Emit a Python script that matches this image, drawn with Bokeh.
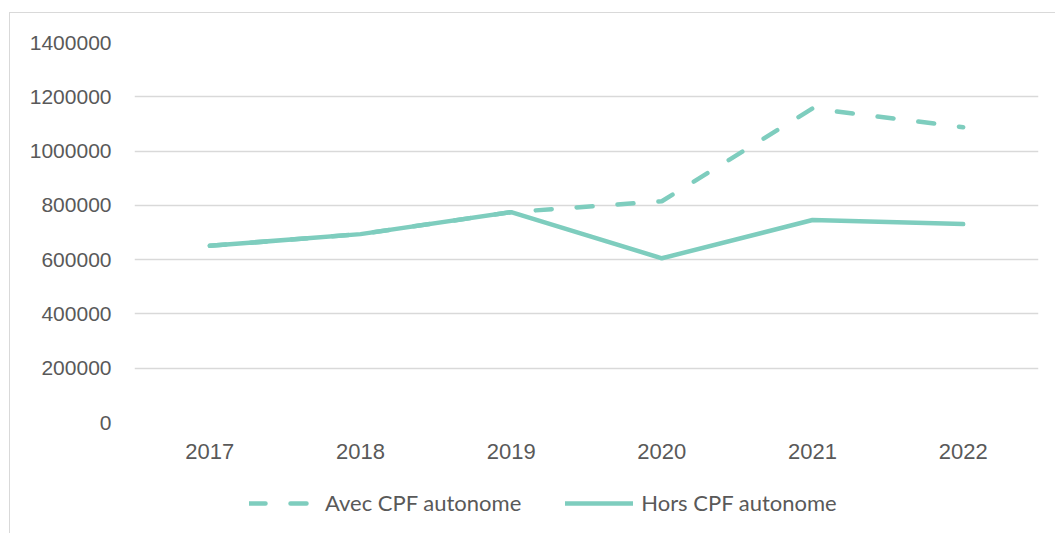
from bokeh.plotting import figure
from bokeh.layouts import column
from bokeh.models import FactorRange, Range1d, FixedTicker, BasicTickFormatter, Legend, LegendItem
from bokeh.embed import file_html
from bokeh.resources import INLINE

years = ["2017", "2018", "2019", "2020", "2021", "2022"]
avec_cpf = [651000, 694000, 775000, 815000, 1157000, 1088000]
hors_cpf = [651000, 694000, 775000, 605000, 746000, 731000]
y_ticks = [0, 200000, 400000, 600000, 800000, 1000000, 1200000, 1400000]
series_names = ["Avec CPF autonome", "Hors CPF autonome"]

color = "#7ECDBE"
text_color = "#595959"
dash = "16 25"

p = figure(width=1045, height=464, x_range=FactorRange(*years, range_padding=0),
           y_range=Range1d(0, 1400000), output_backend="svg", toolbar_location=None,
           min_border_left=124, min_border_top=29, min_border_right=17, min_border_bottom=55)
p.outline_line_color = None
p.xgrid.grid_line_color = None
p.ygrid.grid_line_color = "#d9d9d9"
p.ygrid.grid_line_width = 1.5

p.yaxis.ticker = FixedTicker(ticks=y_ticks)
p.yaxis.formatter = BasicTickFormatter(use_scientific=False)
for ax in (p.xaxis[0], p.yaxis[0]):
    ax.axis_line_color = None
    ax.major_tick_line_color = None
    ax.minor_tick_line_color = None
    ax.major_label_text_font = "Liberation Sans"
    ax.major_label_text_color = text_color
p.yaxis.major_label_text_font_size = "21px"
p.xaxis.major_label_text_font_size = "22px"
p.yaxis.major_label_standoff = 17
p.xaxis.major_label_standoff = 15

p.line(years, avec_cpf, line_color=color, line_width=4.5, line_dash=dash, line_cap="round")
p.line(years, hors_cpf, line_color=color, line_width=4.5, line_cap="round", line_join="round")

# legend strip (dummy renderers drawn outside the visible range)
p2 = figure(width=1045, height=56, x_range=Range1d(0, 1), y_range=Range1d(0, 1),
            output_backend="svg", toolbar_location=None,
            min_border_left=0, min_border_top=0, min_border_right=0, min_border_bottom=0)
p2.axis.visible = False
p2.grid.visible = False
p2.outline_line_color = None
l1 = p2.line([-10, -9], [-10, -9], line_color=color, line_width=4.5, line_dash=dash, line_cap="round")
l2 = p2.line([-10, -9], [-10, -9], line_color=color, line_width=4.5, line_cap="round")
legend = Legend(items=[LegendItem(label=series_names[0], renderers=[l1]),
                       LegendItem(label=series_names[1], renderers=[l2])],
                orientation="horizontal", location=(115, 17), border_line_color=None,
                background_fill_alpha=0,
                label_text_font="Lato", label_text_font_size="22px",
                label_text_color=text_color, glyph_width=68, label_standoff=8, spacing=44,
                margin=0, padding=0)
p2.add_layout(legend, "center")

layout = column(p, p2, spacing=0)
layout.styles = {"border-top": "1px solid #d9d9d9", "border-left": "1px solid #d9d9d9",
                 "margin-top": "12px", "margin-left": "9px"}

open("out.html", "w").write(file_html(layout, INLINE))
